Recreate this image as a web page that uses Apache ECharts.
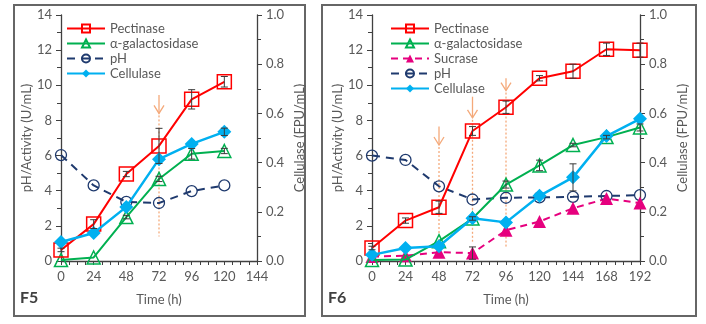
<!DOCTYPE html>
<html>
<head>
<meta charset="utf-8">
<script src="https://cdn.jsdelivr.net/npm/echarts@6/dist/echarts.min.js"></script>
<style>
  html, body { margin: 0; padding: 0; background: #fff; }
  #chart { width: 706px; height: 324px; }
</style>
</head>
<body>
<div id="chart"></div>
<script>
// F5 panel
const hoursF5 = [0, 24, 48, 72, 96, 120];
const pectF5 = [0.63, 2.1, 4.95, 6.55, 9.2, 10.2];
const pectErrF5 = [0.1, 0.25, 0.15, 1.0, 0.55, 0.3];
const galF5 = [0.05, 0.2, 2.5, 4.67, 6.1, 6.26];
const galErrF5 = [0, 0, 0.1, 0.15, 0.3, 0.15];
const phF5 = [6.03, 4.3, 3.36, 3.3, 3.98, 4.3];
const cellF5 = [0.077, 0.114, 0.22, 0.414, 0.476, 0.525];
const cellErrF5 = [0, 0, 0, 0, 0, 0.015];
const arrowsF5 = [[72, 9.45, 8.4, 1.4]];

// F6 panel
const hoursF6 = [0, 24, 48, 72, 96, 120, 144, 168, 192];
const pectF6 = [0.74, 2.3, 3.06, 7.4, 8.75, 10.4, 10.8, 12.05, 12.0];
const pectErrF6 = [0.1, 0.15, 0.35, 0.25, 0.35, 0.15, 0.4, 0.35, 0.4];
const galF6 = [0.05, 0.08, 1.13, 2.42, 4.35, 5.44, 6.6, 7.05, 7.6];
const galErrF6 = [0, 0, 0, 0.1, 0.2, 0.3, 0.1, 0.1, 0.2];
const sucF6 = [0.25, 0.3, 0.5, 0.45, 1.75, 2.25, 3.0, 3.55, 3.3];
const sucErrF6 = [0, 0, 0, 0.35, 0, 0, 0, 0, 0];
const phF6 = [6.0, 5.75, 4.25, 3.5, 3.6, 3.62, 3.65, 3.7, 3.75];
const cellF6 = [0.025, 0.053, 0.06, 0.174, 0.157, 0.265, 0.34, 0.508, 0.578];
const cellErrF6 = [0, 0, 0, 0, 0, 0, 0.055, 0, 0];
const arrowsF6 = [[48, 7.65, 6.6, 0.6], [72, 9.35, 8.15, 1.1], [96, 10.4, 9.7, 0.8]];

const legendF5 = ['Pectinase', 'α-galactosidase', 'pH', 'Cellulase'];
const legendF6 = ['Pectinase', 'α-galactosidase', 'Sucrase', 'pH', 'Cellulase'];

const FONT = 'Lato';
const TXT = '#595959';
const AX = '#404040';

const chart = echarts.init(document.getElementById('chart'));

const pairs = (xs, ys) => xs.map((x, i) => [x, ys[i]]);
const triples = (xs, ys, es) => xs.map((x, i) => [x, ys[i], es[i]]).filter(d => d[2] > 0);

function lineSeries(name, xs, ys, g, yAxis, style) {
  return Object.assign({
    name: name,
    type: 'line',
    xAxisIndex: g,
    yAxisIndex: g * 2 + yAxis,
    data: pairs(xs, ys),
    animation: false
  }, style);
}

// hollow markers let the line show through, as in the original
const styles = {
  'Pectinase': { symbol: 'rect', symbolSize: 14, color: '#FF0000',
    itemStyle: { color: 'rgba(255,255,255,0)', borderColor: '#FF0000', borderWidth: 1.5 },
    lineStyle: { color: '#FF0000', width: 2 }, z: 4 },
  'α-galactosidase': { symbol: 'triangle', symbolSize: 13, color: '#00B050',
    itemStyle: { color: 'rgba(255,255,255,0)', borderColor: '#00B050', borderWidth: 1.5 },
    lineStyle: { color: '#00B050', width: 2 }, z: 3 },
  'Sucrase': { symbol: 'triangle', symbolSize: 13, color: '#E6007E',
    itemStyle: { color: '#E6007E' },
    lineStyle: { color: '#E6007E', width: 2, type: [7, 5] }, z: 2 },
  'pH': { symbol: 'circle', symbolSize: 11, color: '#1F3A6E',
    itemStyle: { color: 'rgba(255,255,255,0)', borderColor: '#1F3A6E', borderWidth: 1.3 },
    lineStyle: { color: '#1F3A6E', width: 2, type: [8, 6] }, z: 2 },
  'Cellulase': { symbol: 'diamond', symbolSize: 14, color: '#00B0F0',
    itemStyle: { color: '#00B0F0' },
    lineStyle: { color: '#00B0F0', width: 2.5 }, z: 5 }
};

function errSeries(data, g, yAxis) {
  return {
    type: 'custom',
    xAxisIndex: g,
    yAxisIndex: g * 2 + yAxis,
    data: data,
    z: 6,
    silent: true,
    animation: false,
    renderItem: function (params, api) {
      const x = api.value(0), y = api.value(1), e = api.value(2);
      const top = api.coord([x, y + e]);
      const bot = api.coord([x, y - e]);
      const st = { stroke: '#3a3a3a', lineWidth: 1 };
      return {
        type: 'group',
        children: [
          { type: 'line', shape: { x1: top[0], y1: top[1], x2: bot[0], y2: bot[1] }, style: st },
          { type: 'line', shape: { x1: top[0] - 3.5, y1: top[1], x2: top[0] + 3.5, y2: top[1] }, style: st },
          { type: 'line', shape: { x1: bot[0] - 3.5, y1: bot[1], x2: bot[0] + 3.5, y2: bot[1] }, style: st }
        ]
      };
    }
  };
}

function arrowSeries(data, g) {
  return {
    type: 'custom',
    xAxisIndex: g,
    yAxisIndex: g * 2,
    data: data,
    z: 1,
    silent: true,
    animation: false,
    renderItem: function (params, api) {
      const x = api.value(0);
      const s = api.coord([x, api.value(1)]);
      const t = api.coord([x, api.value(2)]);
      const b = api.coord([x, api.value(3)]);
      const col = '#F4A97A';
      return {
        type: 'group',
        children: [
          { type: 'line', shape: { x1: s[0], y1: s[1], x2: t[0], y2: t[1] }, style: { stroke: col, lineWidth: 1.3 } },
          { type: 'polyline', shape: { points: [[t[0] - 5, t[1] - 8], [t[0], t[1]], [t[0] + 5, t[1] - 8]] }, style: { stroke: col, lineWidth: 1.3, fill: null } },
          { type: 'line', shape: { x1: t[0], y1: t[1] + 2, x2: b[0], y2: b[1] }, style: { stroke: col, lineWidth: 1.3, lineDash: [2, 2] } }
        ]
      };
    }
  };
}

function grid(left, right) {
  return { left: left, right: right, top: 15, bottom: 63 };
}

function xAxis(g, max) {
  return {
    type: 'value', gridIndex: g, min: 0, max: max, interval: 24,
    name: 'Time (h)', nameLocation: 'middle', nameGap: 32,
    nameTextStyle: { color: TXT, fontFamily: FONT, fontSize: 13 },
    axisLine: { lineStyle: { color: AX, width: 1.3 } },
    axisTick: { show: true, length: 4, lineStyle: { color: AX } },
    minorTick: { show: true, splitNumber: 4, length: 4, lineStyle: { color: AX } },
    axisLabel: { color: TXT, fontFamily: FONT, fontSize: 13, margin: 9 },
    splitLine: { show: false }
  };
}

function yAxes(g) {
  return [
    {
      type: 'value', gridIndex: g, position: 'left', min: 0, max: 14, interval: 2,
      name: 'pH/Activity (U/mL)', nameLocation: 'middle', nameGap: 28, nameRotate: 90,
      nameTextStyle: { color: TXT, fontFamily: FONT, fontSize: 13 },
      axisLine: { show: true, lineStyle: { color: AX, width: 1.3 } },
      axisTick: { show: true, length: 5, lineStyle: { color: AX } },
      minorTick: { show: true, splitNumber: 2, length: 4, lineStyle: { color: AX } },
      axisLabel: { color: TXT, fontFamily: FONT, fontSize: 13, margin: 9 },
      splitLine: { show: false }
    },
    {
      type: 'value', gridIndex: g, position: 'right', min: 0, max: 1, interval: 0.2,
      name: 'Cellulase (FPU/mL)', nameLocation: 'middle', nameGap: 36, nameRotate: 90,
      nameTextStyle: { color: TXT, fontFamily: FONT, fontSize: 13 },
      axisLine: { show: true, lineStyle: { color: AX, width: 1.3 } },
      axisTick: { show: true, length: 5, lineStyle: { color: AX } },
      minorTick: { show: true, splitNumber: 2, length: 4, lineStyle: { color: AX } },
      axisLabel: { color: TXT, fontFamily: FONT, fontSize: 13, margin: 9, formatter: v => v.toFixed(1) },
      splitLine: { show: false }
    }
  ];
}

function legend(left, names) {
  return {
    left: left, top: 22, orient: 'vertical', padding: 0,
    itemWidth: 38, itemHeight: 10, itemGap: 2,
    data: names,
    textStyle: { color: TXT, fontFamily: FONT, fontSize: 13, padding: [0, 0, 0, 0] }
  };
}

const series = [
  lineSeries('pH', hoursF5, phF5, 0, 0, styles['pH']),
  lineSeries('α-galactosidase', hoursF5, galF5, 0, 0, styles['α-galactosidase']),
  lineSeries('Pectinase', hoursF5, pectF5, 0, 0, styles['Pectinase']),
  lineSeries('Cellulase', hoursF5, cellF5, 0, 1, styles['Cellulase']),
  errSeries(triples(hoursF5, pectF5, pectErrF5), 0, 0),
  errSeries(triples(hoursF5, galF5, galErrF5), 0, 0),
  errSeries(triples(hoursF5, cellF5, cellErrF5), 0, 1),
  arrowSeries(arrowsF5, 0),

  lineSeries('pH', hoursF6, phF6, 1, 0, styles['pH']),
  lineSeries('Sucrase', hoursF6, sucF6, 1, 0, styles['Sucrase']),
  lineSeries('α-galactosidase', hoursF6, galF6, 1, 0, styles['α-galactosidase']),
  lineSeries('Pectinase', hoursF6, pectF6, 1, 0, styles['Pectinase']),
  lineSeries('Cellulase', hoursF6, cellF6, 1, 1, styles['Cellulase']),
  errSeries(triples(hoursF6, pectF6, pectErrF6), 1, 0),
  errSeries(triples(hoursF6, galF6, galErrF6), 1, 0),
  errSeries(triples(hoursF6, sucF6, sucErrF6), 1, 0),
  errSeries(triples(hoursF6, cellF6, cellErrF6), 1, 1),
  arrowSeries(arrowsF6, 1)
];

chart.setOption({
  animation: false,
  grid: [grid(61, 449), grid(372, 66)],
  xAxis: [xAxis(0, 144), xAxis(1, 192)],
  yAxis: yAxes(0).concat(yAxes(1)),
  legend: [legend(66, legendF5), legend(390, legendF6)],
  graphic: [
    { type: 'rect', shape: { x: 14, y: 5, width: 291, height: 311 }, style: { fill: null, stroke: '#666', lineWidth: 2 }, silent: true },
    { type: 'rect', shape: { x: 322, y: 5, width: 374, height: 311 }, style: { fill: null, stroke: '#666', lineWidth: 2 }, silent: true },
    { type: 'text', left: 20, top: 290, style: { text: 'F5', fill: '#404040', font: 'bold 16px Lato' } },
    { type: 'text', left: 328, top: 290, style: { text: 'F6', fill: '#404040', font: 'bold 16px Lato' } }
  ],
  series: series
});

window.addEventListener('resize', function () {
  chart.resize();
});
</script>
</body>
</html>
